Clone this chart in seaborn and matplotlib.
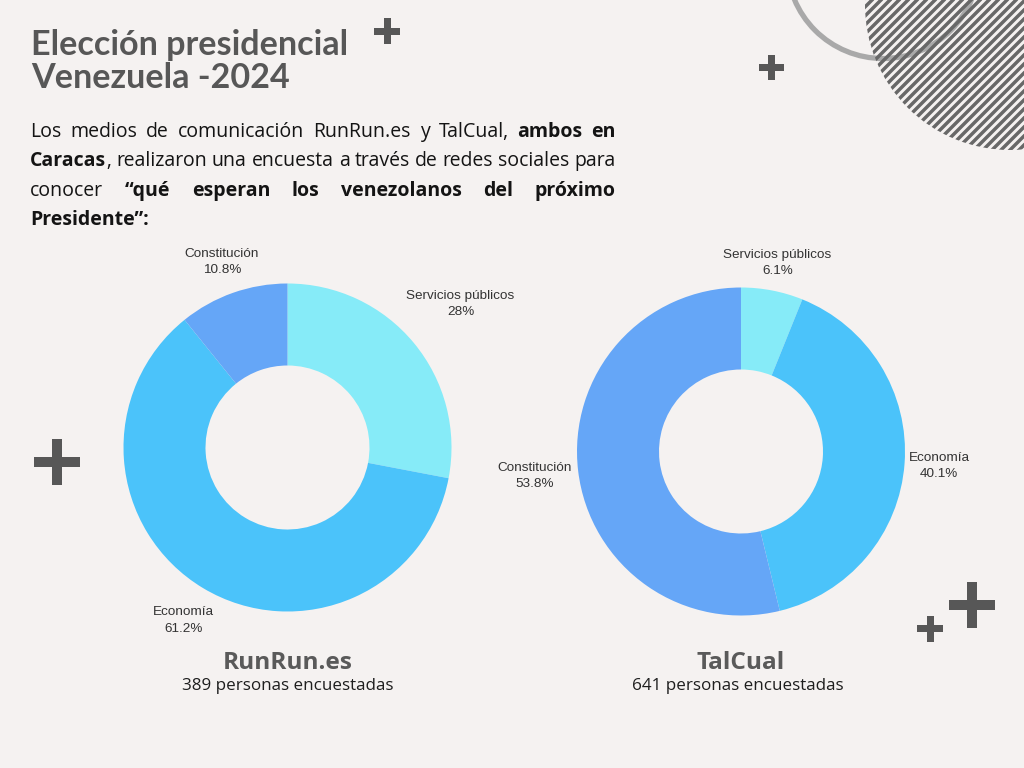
import matplotlib
matplotlib.use("Agg")
import matplotlib.pyplot as plt
from matplotlib import font_manager as fm
import seaborn as sns
import numpy as np
from matplotlib.patches import Circle, Rectangle

# ---------------- data ----------------
categories = ["Servicios públicos", "Economía", "Constitución"]
runrun_values = [28, 61.2, 10.8]
talcual_values = [6.1, 40.1, 53.8]
media_names = ["RunRun.es", "TalCual"]
respondents = [389, 641]
title_lines = ["Elección presidencial", "Venezuela -2024"]
paragraph = [
    [[("Los", False)], [("medios", False)], [("de", False)], [("comunicación", False)],
     [("RunRun.es", False)], [("y", False)], [("TalCual,", False)], [("ambos", True)], [("en", True)]],
    [[("Caracas", True), (",", False)], [("realizaron", False)], [("una", False)], [("encuesta", False)],
     [("a", False)], [("través", False)], [("de", False)], [("redes", False)], [("sociales", False)], [("para", False)]],
    [[("conocer", False)], [("“qué", True)], [("esperan", True)], [("los", True)], [("venezolanos", True)],
     [("del", True)], [("próximo", True)]],
    [[("Presidente”:", True)]],
]

# ---------------- style ----------------
sns.set_theme(style="white")
BG = "#f5f2f1"
DARK = "#575757"
colors = ["#86ebf8", "#4bc3fa", "#65a6f7"]
plt.rcParams["font.family"] = ["Open Sans", "DejaVu Sans"]


def find_font(fname, fallback):
    for f in fm.fontManager.ttflist:
        if f.fname.endswith("/" + fname):
            return fm.FontProperties(fname=f.fname)
    return fm.FontProperties(**fallback)


FP_REG = find_font("OpenSans-Regular.ttf", dict(family="Open Sans", weight="normal"))
FP_BOLD = find_font("OpenSans-Bold.ttf", dict(family="Open Sans", weight="bold"))
FP_TITLE = fm.FontProperties(family="Lato", weight="bold")
FP_NAME = fm.FontProperties(family="Open Sans", weight="bold")
FP_SUB = fm.FontProperties(family="Open Sans", weight="normal")
FP_LAB = fm.FontProperties(family="Liberation Sans", weight="normal")

W, H = 1024, 768
fig = plt.figure(figsize=(10.24, 7.68), dpi=100, facecolor=BG)
ax = fig.add_axes([0, 0, 1, 1])
ax.set_facecolor(BG)
renderer = fig.canvas.get_renderer()


def Y(y):
    return H - y


def measure(s, size, fp):
    p = fp.copy()
    p.set_size(size)
    t = ax.text(0, 0, s, fontproperties=p)
    w = t.get_window_extent(renderer).width
    t.remove()
    return w


def fit_size(s, target, fp):
    return 20 * target / measure(s, 20, fp)


def put(x, y, s, size, fp, **kw):
    p = fp.copy()
    p.set_size(size)
    return ax.text(x, y, s, fontproperties=p, **kw)


# ---------------- decorations ----------------
hatch_clip = Circle((1010, Y(5)), 145, facecolor="none", edgecolor="none")
ax.add_patch(hatch_clip)
for c in np.arange(-1400, 400, 9.0):
    xs = np.array([840, 1030])
    ln, = ax.plot(xs, xs + c, color="#686868", lw=2.5, solid_capstyle="butt")
    ln.set_clip_path(hatch_clip)
ax.add_patch(Circle((883, Y(-37.5)), 96, fill=False, edgecolor="#a9a9a9", lw=3.8))


def plus(cx, cy, size, thick):
    ax.add_patch(Rectangle((cx - size / 2, Y(cy) - thick / 2), size, thick, color=DARK, lw=0))
    ax.add_patch(Rectangle((cx - thick / 2, Y(cy) - size / 2), thick, size, color=DARK, lw=0))


plus(387, 31, 26, 7)
plus(771, 67.5, 25, 7)
plus(57, 462, 46, 10)
plus(972, 604.5, 46, 10)
plus(930, 628.5, 26, 7)

# ---------------- title ----------------
tsize = fit_size(title_lines[0], 317, FP_TITLE)
put(31, Y(55), title_lines[0], tsize, FP_TITLE, color=DARK, va="baseline", ha="left")
put(31, Y(88), title_lines[1], tsize, FP_TITLE, color=DARK, va="baseline", ha="left")

# ---------------- justified paragraph ----------------
LEFT, RIGHT = 30, 616


def fp_of(b):
    return FP_BOLD if b else FP_REG


line2 = paragraph[1]
sp20 = measure("a a", 20, FP_REG) - measure("aa", 20, FP_REG)
nat20 = sum(measure(p, 20, fp_of(b)) for w in line2 for p, b in w) + sp20 * (len(line2) - 1)
psize = 20 * (RIGHT - LEFT) / nat20
space_w = sp20 * psize / 20
baselines = [137, 166, 196, 225]
for li, words in enumerate(paragraph):
    widths = [sum(measure(p, psize, fp_of(b)) for p, b in w) for w in words]
    if li < len(paragraph) - 1 and len(words) > 1:
        gap = (RIGHT - LEFT - sum(widths)) / (len(words) - 1)
    else:
        gap = space_w
    x = LEFT
    for w, wd in zip(words, widths):
        xx = x
        for p, b in w:
            put(xx, Y(baselines[li]), p, psize, fp_of(b), color="#141414", va="baseline", ha="left")
            xx += measure(p, psize, fp_of(b))
        x += wd + gap

# ---------------- donuts ----------------
centers = [(287.5, 447.5), (741, 451.5)]
R_OUT, R_W = 164, 82
label_dist = [[1.37, 1.23, 1.20], [1.17, 1.21, 1.27]]
lsize = fit_size("Constitución", 74, FP_LAB)
nsize = fit_size(media_names[0], 130, FP_NAME)
ssize = fit_size("389 personas encuestadas", 210, FP_SUB)
for k, vals in enumerate([runrun_values, talcual_values]):
    cx, cy = centers[k]
    ax.pie(vals, colors=colors, startangle=90, counterclock=False, center=(cx, Y(cy)),
           radius=R_OUT, wedgeprops=dict(width=R_W, linewidth=0), frame=True)
    total = sum(vals)
    cum = 0
    for i, v in enumerate(vals):
        mid = 90 - 360 * (cum + v / 2) / total
        cum += v
        r = R_OUT * label_dist[k][i]
        lx = cx + r * np.cos(np.radians(mid))
        ly = Y(cy) + r * np.sin(np.radians(mid))
        put(lx, ly, f"{categories[i]}\n{v:g}%", lsize, FP_LAB, ha="center", va="center",
            color="#333333", linespacing=1.45)
    put(cx, Y(669), media_names[k], nsize, FP_NAME, ha="center", va="baseline", color="#5a5a5a")
    put(cx - (3 if k else 0), Y(690), f"{respondents[k]} personas encuestadas", ssize, FP_SUB,
        ha="center", va="baseline", color="#1e1e1e")

ax.set_xlim(0, W)
ax.set_ylim(0, H)
ax.set_aspect("auto")
ax.axis("off")
fig.savefig("out.png", dpi=100, facecolor=BG)
